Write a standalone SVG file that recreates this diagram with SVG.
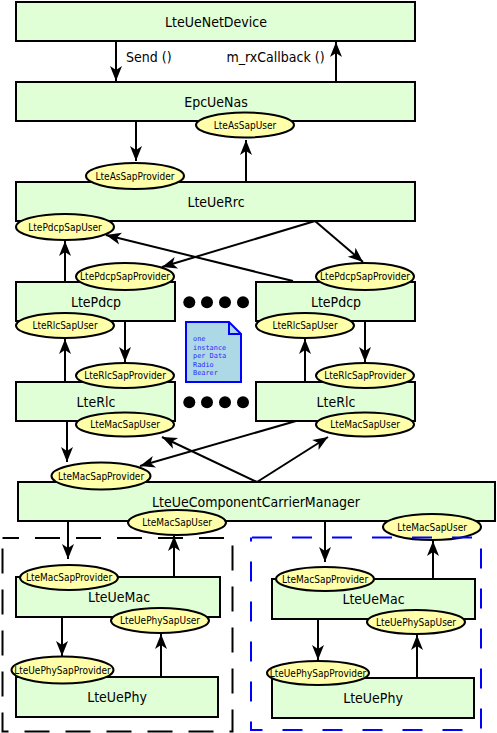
<svg xmlns="http://www.w3.org/2000/svg" width="497" height="733" viewBox="0 0 497 733">
<style>
.box{fill:#E0FFD6;stroke:#000;stroke-width:2}
.sap{fill:#FFFFAA;stroke:#000;stroke-width:2}
.lbl{font-family:"DejaVu Sans Condensed","DejaVu Sans","Liberation Sans Narrow",sans-serif;font-stretch:condensed;font-size:14px;fill:#000;text-anchor:middle}
.slbl{font-family:"DejaVu Sans Condensed","DejaVu Sans","Liberation Sans Narrow",sans-serif;font-stretch:condensed;font-size:10px;fill:#000;text-anchor:middle}
.clbl{font-family:"DejaVu Sans Condensed","DejaVu Sans","Liberation Sans Narrow",sans-serif;font-stretch:condensed;font-size:14px;fill:#000}
.con{stroke:#000;stroke-width:2;fill:none;marker-end:url(#arr)}
.note{fill:#ADD8E6;stroke:#0000FF;stroke-width:2}
.ntxt{font-family:"DejaVu Sans Mono","Liberation Mono",monospace;font-size:6.9px;fill:#2a2aff}
.dot{fill:#000}
</style>
<defs>
<marker id="arr" viewBox="-16 -7 17 14" refX="0" refY="0" markerWidth="17" markerHeight="14" markerUnits="userSpaceOnUse" orient="auto">
<path d="M0,0 L-15,-6 L-11,0 L-15,6 Z" fill="#000"/>
</marker>
</defs>
<rect width="497" height="733" fill="#fff"/>

<g id="LteUeNetDevice"><rect class="box" x="16" y="2" width="399" height="39"/><text class="lbl" x="216" y="26.7">LteUeNetDevice</text></g>
<g id="EpcUeNas"><rect class="box" x="16" y="82" width="399" height="39"/><text class="lbl" x="216" y="107">EpcUeNas</text></g>
<g id="LteAsSapUser"><ellipse class="sap" cx="245" cy="125" rx="49" ry="12.5"/><text class="slbl" x="245" y="128.7">LteAsSapUser</text></g>
<g id="LteUeRrc"><rect class="box" x="16" y="182" width="399" height="39"/><text class="lbl" x="216" y="207">LteUeRrc</text></g>
<g id="LteAsSapProvider"><ellipse class="sap" cx="135" cy="176" rx="49" ry="13"/><text class="slbl" x="135" y="179.7">LteAsSapProvider</text></g>
<g id="LtePdcpSapUser"><ellipse class="sap" cx="65" cy="227" rx="49" ry="13"/><text class="slbl" x="65" y="230.7">LtePdcpSapUser</text></g>

<g id="LtePdcp1"><rect class="box" x="16" y="282" width="159" height="39"/><text class="lbl" x="96" y="307">LtePdcp</text></g>
<g id="LtePdcpSapProvider1"><ellipse class="sap" cx="125" cy="276.5" rx="49" ry="13.5"/><text class="slbl" x="125" y="280.2">LtePdcpSapProvider</text></g>
<g id="LteRlcSapUser1"><ellipse class="sap" cx="65" cy="325.5" rx="49" ry="12.5"/><text class="slbl" x="65" y="329.2">LteRlcSapUser</text></g>
<g id="LtePdcp2"><rect class="box" x="256" y="282" width="159" height="39"/><text class="lbl" x="336" y="307">LtePdcp</text></g>
<g id="LtePdcpSapProvider2"><ellipse class="sap" cx="365" cy="276.5" rx="49" ry="13.5"/><text class="slbl" x="365" y="280.2">LtePdcpSapProvider</text></g>
<g id="LteRlcSapUser2"><ellipse class="sap" cx="305" cy="325.5" rx="49" ry="12.5"/><text class="slbl" x="305" y="329.2">LteRlcSapUser</text></g>

<g id="LteRlc1"><rect class="box" x="16" y="382" width="159" height="39"/><text class="lbl" x="96" y="407">LteRlc</text></g>
<g id="LteRlcSapProvider1"><ellipse class="sap" cx="125" cy="375.5" rx="49" ry="12.5"/><text class="slbl" x="125" y="379.2">LteRlcSapProvider</text></g>
<g id="LteMacSapUser1"><ellipse class="sap" cx="125" cy="424.5" rx="49" ry="12"/><text class="slbl" x="125" y="428.2">LteMacSapUser</text></g>
<g id="LteRlc2"><rect class="box" x="256" y="382" width="159" height="39"/><text class="lbl" x="336" y="407">LteRlc</text></g>
<g id="LteRlcSapProvider2"><ellipse class="sap" cx="365" cy="375.5" rx="49" ry="12.5"/><text class="slbl" x="365" y="379.2">LteRlcSapProvider</text></g>
<g id="LteMacSapUser2"><ellipse class="sap" cx="365" cy="424.5" rx="49" ry="12"/><text class="slbl" x="365" y="428.2">LteMacSapUser</text></g>

<g id="dots">
<circle class="dot" cx="189.3" cy="302.3" r="6"/><circle class="dot" cx="207" cy="302.3" r="6"/><circle class="dot" cx="225" cy="302.3" r="6"/><circle class="dot" cx="243" cy="302.3" r="6"/>
<circle class="dot" cx="189.3" cy="402.3" r="6"/><circle class="dot" cx="207" cy="402.3" r="6"/><circle class="dot" cx="225" cy="402.3" r="6"/><circle class="dot" cx="243" cy="402.3" r="6"/>
</g>
<g id="note">
<path class="note" d="M186,322 L229,322 L241,334 L241,382 L186,382 Z"/>
<path d="M229,322 L229,334 L241,334" fill="none" stroke="#0000FF" stroke-width="2"/>
<text class="ntxt" x="193" y="341">one</text>
<text class="ntxt" x="193" y="349.5">instance</text>
<text class="ntxt" x="193" y="358">per Data</text>
<text class="ntxt" x="193" y="366.5">Radio</text>
<text class="ntxt" x="193" y="375">Bearer</text>
</g>

<g id="LteUeComponentCarrierManager"><rect class="box" x="18" y="482" width="477" height="39"/><text class="lbl" x="256" y="506.5">LteUeComponentCarrierManager</text></g>
<g id="LteMacSapProviderCcm"><ellipse class="sap" cx="101" cy="476" rx="49.5" ry="13.5"/><text class="slbl" x="101" y="479.7">LteMacSapProvider</text></g>
<g id="LteMacSapUserCcm1"><ellipse class="sap" cx="177" cy="522.5" rx="49" ry="12.5"/><text class="slbl" x="177" y="526.2">LteMacSapUser</text></g>
<g id="LteMacSapUserCcm2"><ellipse class="sap" cx="432" cy="527" rx="49" ry="13"/><text class="slbl" x="432" y="530.7">LteMacSapUser</text></g>

<g id="LteUeMac1"><rect class="box" x="16" y="577" width="204" height="40"/><text class="lbl" x="119" y="602">LteUeMac</text></g>
<g id="LteMacSapProvider1"><ellipse class="sap" cx="69" cy="577.5" rx="49" ry="12.5"/><text class="slbl" x="69" y="581.2">LteMacSapProvider</text></g>
<g id="LteUePhy1"><rect class="box" x="16" y="677" width="202" height="40"/><text class="lbl" x="117" y="702">LteUePhy</text></g>
<g id="LteUePhySapUser1"><ellipse class="sap" cx="160" cy="620.5" rx="49" ry="12.5"/><text class="slbl" x="160" y="624.2">LteUePhySapUser</text></g>
<g id="LteUePhySapProvider1"><ellipse class="sap" cx="62.5" cy="670" rx="51" ry="13.5"/><text class="slbl" x="62.5" y="673.7">LteUePhySapProvider</text></g>

<g id="LteUeMac2"><rect class="box" x="272" y="579" width="203" height="40"/><text class="lbl" x="373.5" y="603.5">LteUeMac</text></g>
<g id="LteMacSapProvider2"><ellipse class="sap" cx="325" cy="579" rx="49" ry="12"/><text class="slbl" x="325" y="582.7">LteMacSapProvider</text></g>
<g id="LteUePhy2"><rect class="box" x="272" y="678" width="202" height="40"/><text class="lbl" x="373" y="703">LteUePhy</text></g>
<g id="LteUePhySapUser2"><ellipse class="sap" cx="416" cy="622" rx="49" ry="12"/><text class="slbl" x="416" y="625.7">LteUePhySapUser</text></g>
<g id="LteUePhySapProvider2"><ellipse class="sap" cx="318" cy="673" rx="51" ry="12"/><text class="slbl" x="318" y="676.7">LteUePhySapProvider</text></g>

<g id="connectors">
<line class="con" x1="116" y1="42" x2="116" y2="81"/>
<line class="con" x1="336" y1="81" x2="336" y2="42"/>
<line class="con" x1="136" y1="122" x2="136" y2="161"/>
<line class="con" x1="246" y1="181" x2="246" y2="140"/>
<line class="con" x1="315" y1="221" x2="162" y2="267"/>
<line class="con" x1="315" y1="221" x2="363" y2="262"/>
<line class="con" x1="293" y1="281" x2="106" y2="235"/>
<line class="con" x1="65" y1="281" x2="65" y2="241"/>
<line class="con" x1="125" y1="322" x2="125" y2="362"/>
<line class="con" x1="65" y1="381" x2="65" y2="339"/>
<line class="con" x1="365" y1="322" x2="365" y2="362"/>
<line class="con" x1="305" y1="381" x2="305" y2="339"/>
<line class="con" x1="67" y1="422" x2="67" y2="462"/>
<line class="con" x1="296" y1="421" x2="140" y2="466"/>
<line class="con" x1="257" y1="482" x2="162" y2="437"/>
<line class="con" x1="257" y1="482" x2="328" y2="437"/>
<line class="con" x1="68" y1="522" x2="68" y2="559"/>
<line class="con" x1="174" y1="576" x2="174" y2="536"/>
<line class="con" x1="62" y1="618" x2="62" y2="656"/>
<line class="con" x1="161" y1="676" x2="161" y2="634"/>
<line class="con" x1="325" y1="522" x2="325" y2="562"/>
<line class="con" x1="433" y1="578" x2="433" y2="541"/>
<line class="con" x1="318" y1="620" x2="318" y2="660"/>
<line class="con" x1="417" y1="677" x2="417" y2="635"/>
</g>
<g id="labels">
<text class="clbl" x="126" y="62">Send ()</text>
<text class="clbl" x="226.5" y="62">m_rxCallback ()</text>
</g>

<g id="groups">
<rect x="2.5" y="538" width="230" height="193.5" fill="none" stroke="#000" stroke-width="2" stroke-dasharray="25 16" stroke-dashoffset="8.5"/>
<rect x="251" y="537.5" width="230" height="192.5" fill="none" stroke="#0000FF" stroke-width="2" stroke-dasharray="20 20" stroke-dashoffset="-1"/>
</g>
</svg>
